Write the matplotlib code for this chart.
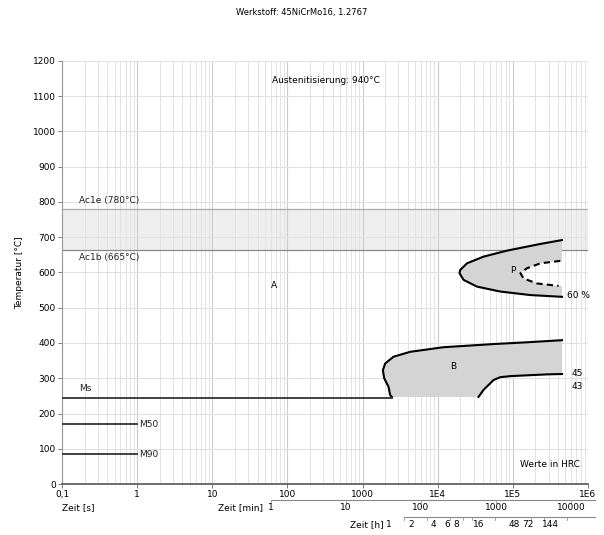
import numpy as np
import matplotlib
matplotlib.use("Agg")
import matplotlib.pyplot as plt
import matplotlib.transforms as mtransforms

# ---------------- data ----------------
title = "Werkstoff: 45NiCrMo16, 1.2767"
aust_text = "Austenitisierung: 940°C"

ac1e = 780
ac1b = 665
ms_temp = 245
ms_end = 2455
m50_temp = 170
m90_temp = 85
m_end = 1.0

# Pearlite region outer curve (time s, temp °C)
p_outer_t = [4.51e5, 2.32e5, 8.34e4, 4.07e4, 2.45e4, 1.99e4, 1.95e4, 2.21e4, 3.33e4, 6.79e4, 1.71e5, 4.51e5]
p_outer_T = [692, 681, 662, 645, 626, 607, 598, 579, 560, 546, 536, 531]
# Pearlite 50% curve (dashed)
p50_t = [4.51e5, 4.28e5, 2.32e5, 1.54e5, 1.26e5, 1.39e5, 2.09e5, 4.06e5, 4.51e5]
p50_T = [633, 633, 626, 612, 598, 583, 569, 562, 562]

# Bainite region upper/left boundary
b_upper_t = [2455, 2330, 2213, 1940, 1864, 2000, 2578, 4303, 1.19e4, 5.53e4, 1.54e5, 4.51e5]
b_upper_T = [247, 252, 276, 300, 323, 342, 361, 375, 388, 397, 402, 408]
# Bainite region lower/right boundary (45 HRC curve)
b_lower_t = [4.51e5, 2.84e5, 9.23e4, 6.79e4, 5.53e4, 4.75e4, 4.07e4, 3.49e4]
b_lower_T = [312, 311, 306, 303, 295, 281, 267, 247]

x_tick_vals = [0.1, 1, 10, 100, 1000, 1e4, 1e5, 1e6]
x_tick_labels = ["0,1", "1", "10", "100", "1000", "1E4", "1E5", "1E6"]
y_ticks = list(range(0, 1201, 100))

min_vals = [1, 10, 100, 1000, 10000]
min_labels = ["1", "10", "100", "1000", "10000"]
h_vals = [1, 2, 4, 6, 8, 16, 48, 72, 144]
h_labels = ["1", "2", "4", "6", "8", "16", "48", "72", "144"]

# ---------------- figure ----------------
plt.rcParams['font.family'] = ['DejaVu Sans']
fig = plt.figure(figsize=(6.04, 5.35), dpi=100)
W, H = 604, 535
x0, x1, y0, y1 = 62, 588, 61, 484
ax = fig.add_axes([x0 / W, 1 - y1 / H, (x1 - x0) / W, (y1 - y0) / H])
ax.set_xscale('log')
ax.set_xlim(0.1, 1e6)
ax.set_ylim(0, 1200)

fs = 6.5
# grid
for d in range(-1, 6):
    for k in range(2, 10):
        ax.axvline(k * 10.0 ** d, color='#e3e3e3', lw=0.7, zorder=0)
for v in x_tick_vals:
    ax.axvline(v, color='#cccccc', lw=0.8, zorder=0)
for v in y_ticks[1:]:
    ax.axhline(v, color='#e2e2e2', lw=0.8, zorder=0)

# Ac1 band
ax.axhspan(ac1b, ac1e, color='#efefef', zorder=-1, lw=0)
ax.axhline(ac1e, color='#aaaaaa', lw=0.9, zorder=1)
ax.axhline(ac1b, color='#888888', lw=0.9, zorder=1)
ax.text(0.17, ac1e + 12, "Ac1e (780°C)", fontsize=fs, va='bottom', ha='left', color='#222')
ax.text(0.17, ac1b - 10, "Ac1b (665°C)", fontsize=fs, va='top', ha='left', color='#222')

# Pearlite region
poly_t = list(p_outer_t) + list(p50_t[::-1])
poly_T = list(p_outer_T) + list(p50_T[::-1])
ax.fill(poly_t, poly_T, color='#d4d4d4', lw=0, zorder=2)
ax.plot(p_outer_t, p_outer_T, color='black', lw=1.5, zorder=3, solid_joinstyle='round')
ax.plot(p50_t[1:-1], p50_T[1:-1], color='black', lw=1.5, ls=(0, (3, 2)), zorder=3)

# Bainite region
bt = list(b_upper_t) + list(b_lower_t)
bT = list(b_upper_T) + list(b_lower_T)
ax.fill(bt, bT, color='#d4d4d4', lw=0, zorder=2)
ax.plot(b_upper_t, b_upper_T, color='black', lw=1.5, zorder=3, solid_joinstyle='round')
ax.plot(b_lower_t, b_lower_T, color='black', lw=1.5, zorder=3, solid_joinstyle='round')

# Martensite lines
ax.plot([0.1, ms_end], [ms_temp, ms_temp], color='#333333', lw=1.3, zorder=3)
ax.plot([0.1, m_end], [m50_temp, m50_temp], color='#333333', lw=1.3, zorder=3)
ax.plot([0.1, m_end], [m90_temp, m90_temp], color='#333333', lw=1.3, zorder=3)
ax.text(0.17, ms_temp + 12, "Ms", fontsize=fs, va='bottom', ha='left', color='#222')
ax.text(1.05, m50_temp, "M50", fontsize=fs, va='center', ha='left', color='#222')
ax.text(1.05, m90_temp, "M90", fontsize=fs, va='center', ha='left', color='#222')

# region labels
ax.text(66, 562, "A", fontsize=fs, ha='center', va='center')
ax.text(1.0e5, 605, "P", fontsize=fs, ha='center', va='center')
ax.text(1.6e4, 333, "B", fontsize=fs, ha='center', va='center')
ax.text(5.2e5, 534, "60 %", fontsize=fs, ha='left', va='center')
ax.text(6.0e5, 314, "45", fontsize=fs, ha='left', va='center')
ax.text(6.0e5, 277, "43", fontsize=fs, ha='left', va='center')
ax.text(0.40, 0.955, aust_text, fontsize=fs, ha='left', va='center', transform=ax.transAxes)
ax.text(0.985, 0.045, "Werte in HRC", fontsize=fs, ha='right', va='center', transform=ax.transAxes)

# axes styling
for s in ['top', 'right']:
    ax.spines[s].set_visible(False)
ax.spines['left'].set_color('#999999')
ax.spines['bottom'].set_color('#555555')
ax.spines['bottom'].set_linewidth(1.2)
ax.set_yticks(y_ticks)
ax.set_yticklabels([str(v) for v in y_ticks], fontsize=fs)
ax.set_xticks(x_tick_vals)
ax.set_xticklabels(x_tick_labels, fontsize=fs)
ax.xaxis.set_minor_locator(matplotlib.ticker.NullLocator())
ax.tick_params(axis='both', length=3, width=0.6, color='#666666', pad=1.5)
ax.set_ylabel("Temperatur [°C]", fontsize=fs, labelpad=6)

tr = mtransforms.blended_transform_factory(ax.transData, ax.transAxes)
ax.text(0.1, -0.045, "Zeit [s]", fontsize=fs, ha='left', va='top', transform=tr)

# secondary time axes
ax_h = y1 - y0
def yfrac(py):
    return (y1 - py) / ax_h

# minutes
ym = yfrac(500)
ax.plot([60, 1.25e6], [ym, ym], color='#888888', lw=0.8, transform=tr, clip_on=False)
for v, lab in zip(min_vals, min_labels):
    t = v * 60
    ax.plot([t, t], [ym, ym - 0.008], color='#999999', lw=0.6, transform=tr, clip_on=False)
    ax.text(t, yfrac(503), lab, fontsize=fs, ha='center', va='top', transform=tr)
ax.text(48, yfrac(503), "Zeit [min]", fontsize=fs, ha='right', va='top', transform=tr)

# hours (labels drawn slightly left of their ticks, as in the original)
yh = yfrac(517)
ax.plot([3600, 1.25e6], [yh, yh], color='#888888', lw=0.8, transform=tr, clip_on=False)
lab_tr = tr + mtransforms.ScaledTranslation(-16 / 100, 0, fig.dpi_scale_trans)
for v, lab in zip(h_vals, h_labels):
    t = v * 3600
    ax.plot([t, t], [yh, yh - 0.006], color='#999999', lw=0.6, transform=tr, clip_on=False)
    ax.text(t, yfrac(520), lab, fontsize=fs, ha='center', va='top', transform=lab_tr)
ax.text(3100, yfrac(520), "Zeit [h]", fontsize=fs, ha='right', va='top', transform=lab_tr)

fig.text(0.5, 1 - 12 / H, title, fontsize=fs - 0.5, ha='center', va='center')

fig.savefig("out.png", dpi=100)
